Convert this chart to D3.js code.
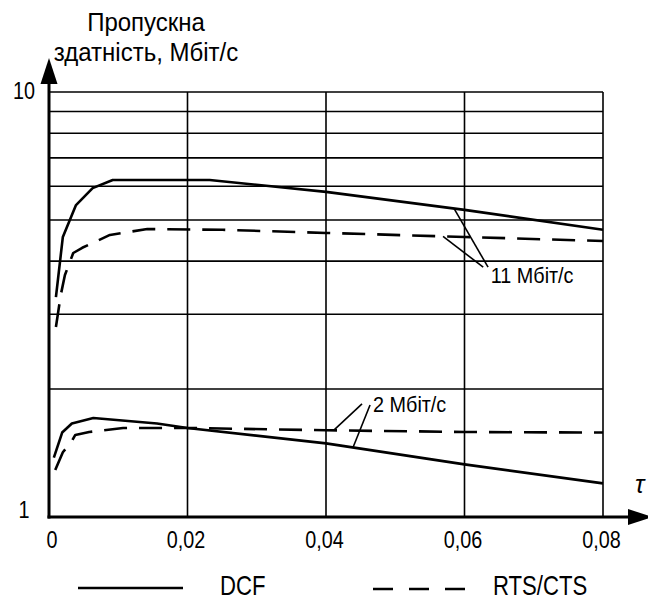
<!DOCTYPE html>
<html>
<head>
<meta charset="utf-8">
<script src="https://cdn.jsdelivr.net/npm/d3@7"></script>
<style>
  html, body { margin: 0; padding: 0; background: #fff; }
  svg { display: block; }
  text { font-family: "Liberation Sans", Arial, sans-serif; fill: #000; }
</style>
</head>
<body>
<svg id="chart" width="648" height="599"></svg>
<script>
// Throughput (Mbit/s) versus τ for DCF and RTS/CTS access at 11 and 2 Mbit/s
const xTicks = [0, 0.02, 0.04, 0.06, 0.08];
const xTickLabels = ["0", "0,02", "0,04", "0,06", "0,08"];
const yGrid = [2, 3, 4, 5, 6, 7, 8, 9, 10];
const yTickLabels = [{ v: 10, t: "10" }, { v: 1, t: "1" }];

const dcf11X = [0.001, 0.002, 0.0039, 0.0063, 0.0092, 0.0232, 0.04, 0.06, 0.08];
const dcf11Y = [3.29, 4.56, 5.42, 5.94, 6.21, 6.21, 5.82, 5.28, 4.74];

const rts11X = [0.001, 0.0017, 0.0023, 0.0035, 0.0048, 0.0088, 0.0142, 0.025, 0.04, 0.06, 0.08];
const rts11Y = [2.80, 3.33, 3.71, 4.18, 4.30, 4.61, 4.76, 4.74, 4.66, 4.56, 4.46];

const dcf2X = [0.0007, 0.0019, 0.0033, 0.0064, 0.0156, 0.02, 0.04, 0.06, 0.08];
const dcf2Y = [1.38, 1.58, 1.66, 1.71, 1.66, 1.62, 1.49, 1.33, 1.20];

const rts2X = [0.0009, 0.002, 0.0032, 0.0038, 0.0058, 0.0107, 0.02, 0.04, 0.06, 0.08];
const rts2Y = [1.29, 1.42, 1.50, 1.56, 1.585, 1.62, 1.62, 1.60, 1.585, 1.58];

const legendLabels = ["DCF", "RTS/CTS"];
const titleLines = ["Пропускна", "здатність, Мбіт/с"];
const rateLabels = ["11 Мбіт/с", "2 Мбіт/с"];

const svg = d3.select("#chart");
const x = d3.scaleLinear().domain([0, 0.08]).range([49, 603]);
const y = d3.scaleLog().domain([1, 10]).range([517, 92]);

const zip = (xs, ys) => xs.map((v, i) => [v, ys[i]]);
// value of a series at position t (log-linear interpolation between points)
function valueAt(xs, ys, t) {
  for (let i = 1; i < xs.length; i++) {
    if (t <= xs[i]) {
      const f = (t - xs[i - 1]) / (xs[i] - xs[i - 1]);
      return Math.exp(Math.log(ys[i - 1]) + f * (Math.log(ys[i]) - Math.log(ys[i - 1])));
    }
  }
  return ys[ys.length - 1];
}
function label(g, px, py, str, size, sx, anchor, italic) {
  return g.append("text")
    .attr("transform", `translate(${px},${py}) scale(${sx},1)`)
    .attr("text-anchor", anchor || "start")
    .attr("font-size", size)
    .attr("font-style", italic ? "italic" : null)
    .text(str);
}

// grid
const grid = svg.append("g").attr("stroke", "#000").attr("stroke-width", 1.6);
grid.selectAll("line.h").data(yGrid).join("line")
  .attr("x1", x(0)).attr("x2", x(0.08))
  .attr("y1", d => y(d)).attr("y2", d => y(d));
grid.selectAll("line.v").data(xTicks.slice(1)).join("line")
  .attr("x1", d => x(d)).attr("x2", d => x(d))
  .attr("y1", y(1)).attr("y2", y(10));

// axes with arrows
const axes = svg.append("g");
axes.append("line").attr("x1", x(0)).attr("x2", x(0)).attr("y1", y(1) + 1.5).attr("y2", 82)
  .attr("stroke", "#000").attr("stroke-width", 3);
axes.append("path").attr("d", `M${x(0)},58 L${x(0) - 8.5},84 L${x(0) + 8.5},84 Z`).attr("fill", "#000");
axes.append("line").attr("x1", x(0) - 1.5).attr("x2", 630).attr("y1", y(1)).attr("y2", y(1))
  .attr("stroke", "#000").attr("stroke-width", 3);
axes.append("path").attr("d", `M653,${y(1)} L628,${y(1) - 8} L628,${y(1) + 8} Z`).attr("fill", "#000");

// tick labels
const lab = svg.append("g");
xTicks.forEach((t, i) => label(lab, x(t) + (i === 0 ? 3 : -1.5), 548, xTickLabels[i], 23, 0.86, "middle"));
yTickLabels.forEach(d => label(lab, 24, y(d.v) + (d.v === 1 ? 1 : 7), d.t, 23, 0.86, "middle"));
label(lab, 635, 493, "τ", 25, 1, "start", true);

// axis title
label(lab, 146, 31, titleLines[0], 25, 0.96, "middle");
label(lab, 146, 61, titleLines[1], 25, 0.96, "middle");

// curves
const line = d3.line().x(d => x(d[0])).y(d => y(d[1]));
const curves = svg.append("g").attr("fill", "none").attr("stroke", "#000")
  .attr("stroke-width", 2.6).attr("stroke-linejoin", "round");
curves.append("path").attr("d", line(zip(dcf11X, dcf11Y)));
curves.append("path").attr("d", line(zip(dcf2X, dcf2Y)));
curves.append("path").attr("d", line(zip(rts11X, rts11Y))).attr("stroke-dasharray", "23,12");
curves.append("path").attr("d", line(zip(rts2X, rts2Y))).attr("stroke-dasharray", "23,12");

// leader lines to the rate labels
const lead = svg.append("g").attr("stroke", "#000").attr("stroke-width", 1.6);
const leaders = [
  [0.0585, valueAt(dcf11X, dcf11Y, 0.0585), 0.0634, 3.87],
  [0.0569, valueAt(rts11X, rts11Y, 0.0569), 0.0627, 3.87],
  [0.0411, valueAt(rts2X, rts2Y, 0.0411), 0.0452, 1.845],
  [0.0439, valueAt(dcf2X, dcf2Y, 0.0439), 0.04636, 1.835]
];
leaders.forEach(d => lead.append("line")
  .attr("x1", x(d[0])).attr("y1", y(d[1])).attr("x2", x(d[2])).attr("y2", y(d[3])));
label(lab, x(0.0638), y(3.55), rateLabels[0], 22, 0.9, "start");
label(lab, x(0.0468), y(1.77), rateLabels[1], 22, 0.9, "start");

// legend
const leg = svg.append("g");
leg.append("line").attr("x1", 78).attr("x2", 183).attr("y1", 588).attr("y2", 588)
  .attr("stroke", "#000").attr("stroke-width", 2.6);
leg.append("line").attr("x1", 373).attr("x2", 466).attr("y1", 589).attr("y2", 589)
  .attr("stroke", "#000").attr("stroke-width", 2.6).attr("stroke-dasharray", "20,16");
label(leg, 220, 595, legendLabels[0], 27, 0.82, "start");
label(leg, 493, 595, legendLabels[1], 27, 0.82, "start");
</script>
</body>
</html>
